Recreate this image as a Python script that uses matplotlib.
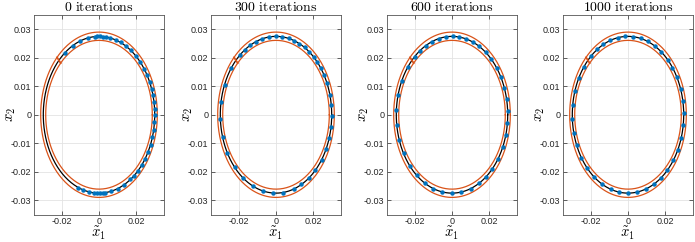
import numpy as np
import matplotlib.pyplot as plt
from matplotlib.ticker import FuncFormatter

plt.rcParams['mathtext.fontset'] = 'cm'
plt.rcParams['font.family'] = ['Liberation Sans', 'DejaVu Sans']

iterations = [0, 300, 600, 1000]

# reference ellipse (black) and tube bounds (orange), semi-axes
ref_ax = (0.030, 0.0275)
outer_ax = (0.0314, 0.0290)
inner_ax = (0.0287, 0.0261)
mark_angle = 136  # deg, start marker across the tube

# parametric angle (deg) of each blue point
angles_0 = [127.8, 118.4, 109.8, 100.9, 94.0, 91.7, 89.0, 86.3, 83.2, 78.5,
            72.7, 67.3, 61.5, 55.3, 48.7, 42.0, 36.1, 30.2, 24.7, 19.0,
            14.5, 9.0, 4.1, -0.5, -5.6, -11.2, -16.7, -22.4, -28.2, -34.5,
            -39.5, -45.5, -51.0, -55.7, -63.3, -70.6, -77.3, -83.5, -86.3,
            -89.0, -91.7, -94.8, -100.2, -106.3, -111.6]
angles_300 = [130.2, 124.4, 117.8, 111.0, 104.2, 97.2, 90.3, 83.5, 76.8, 70.7,
              65.1, 59.1, 53.3, 47.5, 42.0, 36.6, 30.2, 23.8, 14.9, 7.4,
              -1.2, -9.3, -17.3, -26.3, -35.0, -44.9, -54.0, -62.8, -70.9,
              -82.8, -93.1, -104.0, -114.8, -126.4, -138.0, -150.8, -163.2,
              -176.6, 170.7, 157.5, 143.6]
angles_600 = [132.3, 125.3, 118.0, 111.1, 103.4, 96.5, 89.3, 82.8, 75.7, 68.3,
              60.7, 52.7, 45.0, 36.8, 29.0, 19.9, 11.3, 2.9, -6.4, -14.8,
              -24.4, -34.2, -43.6, -52.3, -60.9, -70.4, -80.3, -90.0, -100.0,
              -109.6, -119.4, -129.4, -139.6, -150.4, -161.2, -172.4, 176.6,
              165.5, 154.3, 142.8]
angles_1000 = [131.6, 123.3, 116.3, 108.4, 100.7, 92.7, 84.5, 76.8, 69.2, 61.3,
               53.2, 44.7, 37.0, 28.5, 19.4, 10.0, 1.2, -7.8, -17.3, -26.5,
               -35.7, -44.9, -53.5, -62.2, -71.5, -80.7, -90.0, -99.0, -108.1,
               -117.8, -127.7, -136.9, -146.8, -157.0, -166.7, -176.8, 172.9,
               162.7, 152.1, 142.2]
all_angles = [angles_0, angles_300, angles_600, angles_1000]

xticks = [-0.02, 0, 0.02]
yticks = [-0.03, -0.02, -0.01, 0, 0.01, 0.02, 0.03]

blue = '#0072BD'
orange = '#D95319'
axcol = '#262626'

fig = plt.figure(figsize=(6.95, 2.42), dpi=100)
lefts = [34, 211, 387, 563]
t = np.linspace(0, 2 * np.pi, 400)

def fmt(v, pos):
    return '%g' % round(v, 4)

for i, (it, ang) in enumerate(zip(iterations, all_angles)):
    ax = fig.add_axes([lefts[i] / 695, 1 - 214.5 / 242, 130 / 695, 199.5 / 242])
    ax.plot(outer_ax[0] * np.cos(t), outer_ax[1] * np.sin(t), color=orange, lw=0.9)
    ax.plot(inner_ax[0] * np.cos(t), inner_ax[1] * np.sin(t), color=orange, lw=0.9)
    ax.plot(ref_ax[0] * np.cos(t), ref_ax[1] * np.sin(t), color='black', lw=0.9)
    m = np.deg2rad(mark_angle)
    ax.plot([inner_ax[0] * np.cos(m), outer_ax[0] * np.cos(m)],
            [inner_ax[1] * np.sin(m), outer_ax[1] * np.sin(m)], color=orange, lw=1.3)
    a = np.deg2rad(np.array(ang))
    ax.plot(ref_ax[0] * np.cos(a), ref_ax[1] * np.sin(a), 'o', color=blue,
            ms=3.2, mew=0)
    ax.set_xlim(-0.035, 0.035)
    ax.set_ylim(-0.035, 0.035)
    ax.set_xticks(xticks)
    ax.set_yticks(yticks)
    ax.xaxis.set_major_formatter(FuncFormatter(fmt))
    ax.yaxis.set_major_formatter(FuncFormatter(fmt))
    ax.grid(True, color='#e3e3e3', lw=0.6)
    ax.set_axisbelow(True)
    ax.tick_params(direction='in', length=3, width=0.5, colors=axcol,
                   labelsize=6.5, top=True, right=True, pad=2)
    for s in ax.spines.values():
        s.set_color('#555555')
        s.set_linewidth(0.6)
    ax.set_title(r'$\mathrm{%d\ iterations}$' % it, fontsize=10, pad=3)
    ax.set_xlabel(r'$\tilde{x}_1$', fontsize=10.5, labelpad=-1)
    ax.set_ylabel(r'$x_2$', fontsize=10.5)
    ax.yaxis.set_label_coords(-0.125, 0.5)

fig.savefig('out.png', dpi=100)
